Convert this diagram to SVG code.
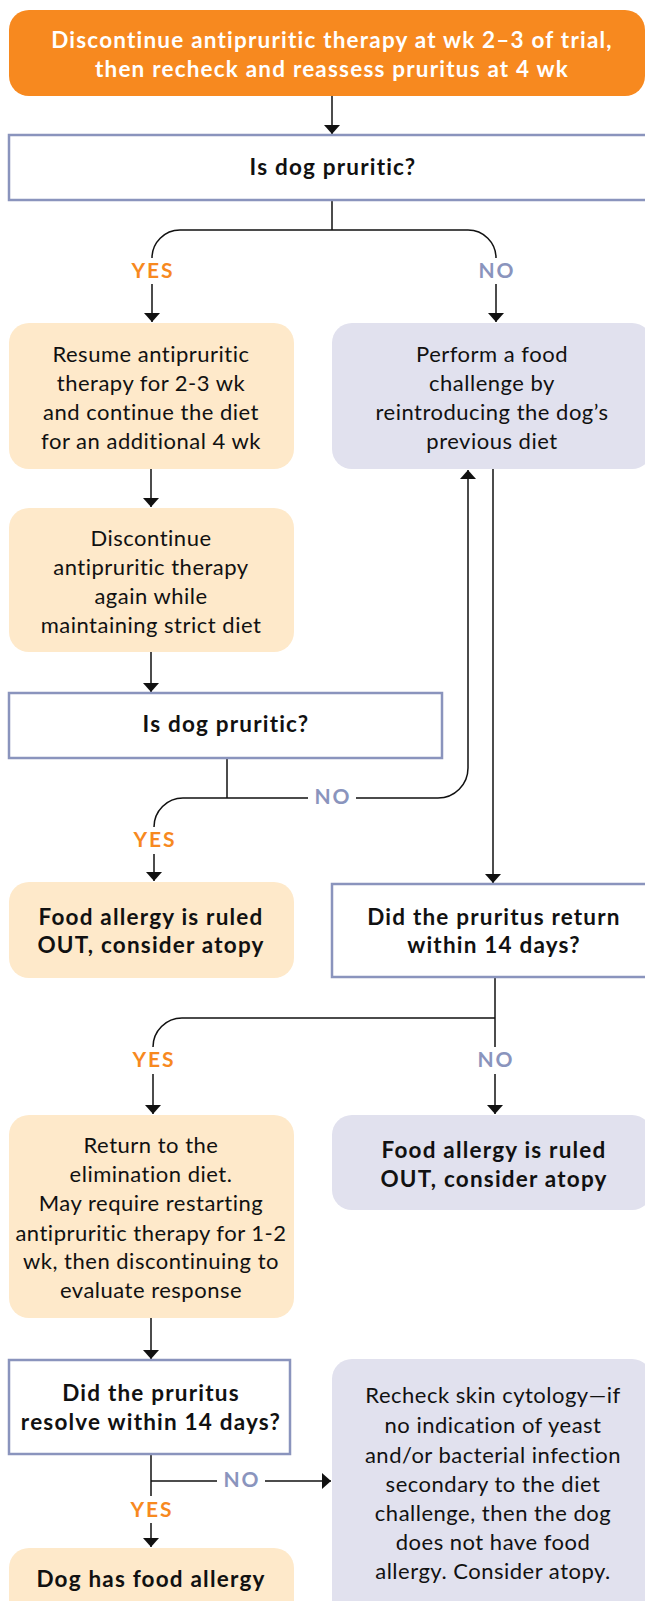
<svg xmlns="http://www.w3.org/2000/svg" width="645" height="1601" viewBox="0 0 645 1601">
<style>
.t{font-family:Lato,"Liberation Sans",sans-serif;font-size:22px;letter-spacing:0.5px;fill:#111;text-anchor:middle;font-variant-ligatures:none}
.b{font-weight:bold;font-size:22.5px;letter-spacing:1.2px}
.w{fill:#fff}
.yes{font-family:Lato,"Liberation Sans",sans-serif;font-size:21px;letter-spacing:2px;font-weight:bold;fill:#f7891f;text-anchor:middle}
.no{font-family:Lato,"Liberation Sans",sans-serif;font-size:21px;letter-spacing:2px;font-weight:bold;fill:#8a94bd;text-anchor:middle}
.peach{fill:#fee9ca}
.lav{fill:#e1e1ee}
.q{fill:#fff;stroke:#8a94bd;stroke-width:2.5}
.c{fill:none;stroke:#111;stroke-width:1.5}
.a{marker-end:url(#ah)}
</style>
<defs>
<marker id="ah" markerUnits="userSpaceOnUse" markerWidth="10" markerHeight="16" refX="9" refY="8" orient="auto" viewBox="0 0 10 16">
<path d="M0,0 L9,8 L0,16 z" fill="#111"/>
</marker>
</defs>
<g id="connectors">
<path class="c a" d="M332,96 V134"/>
<path class="c" d="M332,200 V230"/>
<path class="c" d="M152,258 A28,28 0 0 1 180,230 H468 A28,28 0 0 1 496,258"/>
<path class="c a" d="M152,284 V322"/>
<path class="c a" d="M496,284 V322"/>
<path class="c a" d="M151,469 V507"/>
<path class="c a" d="M151,652 V692"/>
<path class="c" d="M227,758 V798"/>
<path class="c" d="M154,827 A29,29 0 0 1 183,798 H308"/>
<path class="c a" d="M356,798 H438 A30,30 0 0 0 468,768 V470"/>
<path class="c a" d="M154,854 V881"/>
<path class="c a" d="M493,469 V883"/>
<path class="c" d="M495,977 V1047"/>
<path class="c" d="M153,1047 A29,29 0 0 1 182,1018 H495"/>
<path class="c a" d="M153,1074 V1114"/>
<path class="c a" d="M495,1074 V1114"/>
<path class="c a" d="M151,1318 V1359"/>
<path class="c" d="M151,1454 V1496"/>
<path class="c" d="M151,1481 H217"/>
<path class="c a" d="M265,1481 H331"/>
<path class="c a" d="M151,1523 V1547"/>
<text class="yes" x="153" y="278">YES</text>
<text class="no" x="497" y="278">NO</text>
<text class="no" x="333" y="804">NO</text>
<text class="yes" x="155" y="847">YES</text>
<text class="yes" x="154" y="1067">YES</text>
<text class="no" x="496" y="1067">NO</text>
<text class="no" x="242" y="1487">NO</text>
<text class="yes" x="152" y="1517">YES</text>
</g>
<g id="start">
<rect x="9" y="10" width="636" height="86" rx="20" fill="#f7891f"/>
<text class="t b w" x="332" y="48">Discontinue antipruritic therapy at wk 2–3 of trial,</text>
<text class="t b w" x="332" y="77">then recheck and reassess pruritus at 4 wk</text>
</g>
<g id="q1">
<rect class="q" x="9" y="135" width="660" height="65"/>
<text class="t b" x="333" y="175">Is dog pruritic?</text>
</g>
<g id="resume">
<rect class="peach" x="9" y="323" width="285" height="146" rx="20"/>
<text class="t" x="151" y="362">Resume antipruritic</text>
<text class="t" x="151" y="391">therapy for 2-3 wk</text>
<text class="t" x="151" y="420">and continue the diet</text>
<text class="t" x="151" y="449">for an additional 4 wk</text>
</g>
<g id="perform">
<rect class="lav" x="332" y="323" width="320" height="146" rx="20"/>
<text class="t" x="492" y="362">Perform a food</text>
<text class="t" x="492" y="391">challenge by</text>
<text class="t" x="492" y="420">reintroducing the dog’s</text>
<text class="t" x="492" y="449">previous diet</text>
</g>
<g id="discontinue">
<rect class="peach" x="9" y="508" width="285" height="144" rx="20"/>
<text class="t" x="151" y="546">Discontinue</text>
<text class="t" x="151" y="575">antipruritic therapy</text>
<text class="t" x="151" y="604">again while</text>
<text class="t" x="151" y="633">maintaining strict diet</text>
</g>
<g id="q2">
<rect class="q" x="9" y="693" width="433" height="65"/>
<text class="t b" x="226" y="732">Is dog pruritic?</text>
</g>
<g id="ruledout1">
<rect class="peach" x="9" y="882" width="285" height="96" rx="20"/>
<text class="t b" x="151" y="925">Food allergy is ruled</text>
<text class="t b" x="151" y="953">OUT, consider atopy</text>
</g>
<g id="q3">
<rect class="q" x="332" y="884" width="330" height="93"/>
<text class="t b" x="494" y="925">Did the pruritus return</text>
<text class="t b" x="494" y="953">within 14 days?</text>
</g>
<g id="return">
<rect class="peach" x="9" y="1115" width="285" height="203" rx="20"/>
<text class="t" x="151" y="1153">Return to the</text>
<text class="t" x="151" y="1182">elimination diet.</text>
<text class="t" x="151" y="1211">May require restarting</text>
<text class="t" x="151" y="1241">antipruritic therapy for 1-2</text>
<text class="t" x="151" y="1269">wk, then discontinuing to</text>
<text class="t" x="151" y="1298">evaluate response</text>
</g>
<g id="ruledout2">
<rect class="lav" x="332" y="1115" width="320" height="95" rx="20"/>
<text class="t b" x="494" y="1158">Food allergy is ruled</text>
<text class="t b" x="494" y="1187">OUT, consider atopy</text>
</g>
<g id="q4">
<rect class="q" x="9" y="1360" width="281" height="94"/>
<text class="t b" x="151" y="1401">Did the pruritus</text>
<text class="t b" x="151" y="1430">resolve within 14 days?</text>
</g>
<g id="foodallergy">
<rect class="peach" x="9" y="1548" width="285" height="80" rx="20"/>
<text class="t b" x="151" y="1587">Dog has food allergy</text>
</g>
<g id="recheck">
<rect class="lav" x="332" y="1359" width="320" height="262" rx="20"/>
<text class="t" x="493" y="1403">Recheck skin cytology—if</text>
<text class="t" x="493" y="1433">no indication of yeast</text>
<text class="t" x="493" y="1463">and/or bacterial infection</text>
<text class="t" x="493" y="1492">secondary to the diet</text>
<text class="t" x="493" y="1521">challenge, then the dog</text>
<text class="t" x="493" y="1550">does not have food</text>
<text class="t" x="493" y="1579">allergy. Consider atopy.</text>
</g>
</svg>
